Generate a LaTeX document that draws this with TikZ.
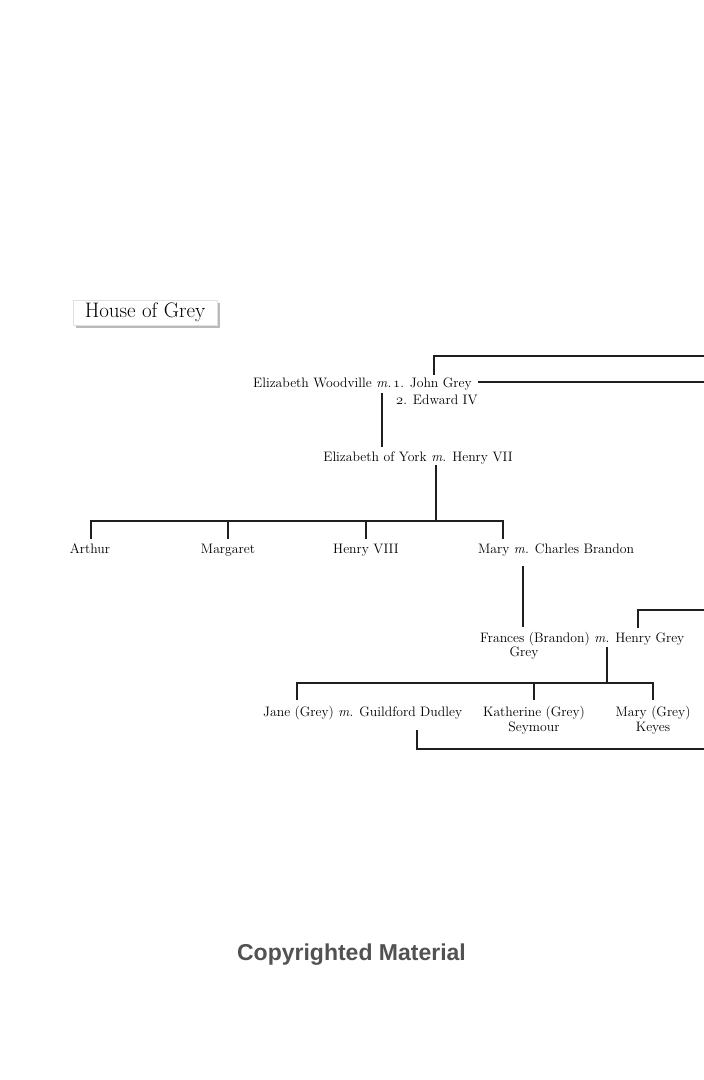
\documentclass[tikz,border=0pt]{standalone}
\usepackage{fontspec}
\newfontfamily\cmfont{Liberation Sans}
\usetikzlibrary{shadows}
\newcommand{\osn}[1]{{\usefont{OML}{cmm}{m}{it}#1}}
\begin{document}
\begin{tikzpicture}[x=1pt,y=-1pt,
  lbl/.style={font=\fontsize{13.7}{15}\selectfont, inner sep=0pt, text=black},
  ln/.style={line width=1.7pt, draw=black!88},
  titlebox/.style={fill=white, draw=black!12, line width=0.4pt,
    minimum width=144pt, minimum height=25pt, inner sep=0pt,
    font=\fontsize{21}{24}\selectfont, text=black,
    drop shadow={shadow xshift=2.5pt, shadow yshift=-2.5pt, fill=black!45, opacity=0.6}},
  cpy/.style={font=\cmfont\bfseries\fontsize{23}{26}\selectfont, text=black!68, inner sep=0pt}]
\useasboundingbox[fill=white] (0,0) rectangle (704,1080);

% title
\node[titlebox] (title) at (145,312.5) {House of Grey};

% text nodes
\node[lbl, anchor=base west] (ew) at (253,387) {Elizabeth Woodville \textit{m.}};
\node[lbl, anchor=base west] (jg) at (393,387) {\osn{1}. John Grey};
\node[lbl, anchor=base west] (ed) at (396,404) {\osn{2}. Edward IV};
\node[lbl, anchor=base] (ey) at (418,461) {Elizabeth of York \textit{m.} Henry VII};
\node[lbl, anchor=base] (arthur) at (90,553) {Arthur};
\node[lbl, anchor=base] (margaret) at (228,553) {Margaret};
\node[lbl, anchor=base] (henry8) at (366,553) {Henry VIII};
\node[lbl, anchor=base west] (mary) at (478,553) {Mary \textit{m.} Charles Brandon};
\node[lbl, anchor=base west] (frances) at (480,642) {Frances (Brandon) \textit{m.} Henry Grey};
\node[lbl, anchor=base] (frances2) at (524,656) {Grey};
\node[lbl, anchor=base west] (jane) at (263,716) {Jane (Grey) \textit{m.} Guildford Dudley};
\node[lbl, anchor=base] (kath) at (534,716) {Katherine (Grey)};
\node[lbl, anchor=base] (kath2) at (534,731) {Seymour};
\node[lbl, anchor=base] (maryg) at (653,716) {Mary (Grey)};
\node[lbl, anchor=base] (maryg2) at (653,731) {Keyes};
\node[cpy, anchor=base] (copy) at (351.5,960) {Copyrighted Material};

% junction coordinates
\coordinate (jgtop) at (434,375);
\coordinate (r1) at (704,356);
\coordinate (jgr) at (478,382);
\coordinate (r2) at (704,382);
\coordinate (ewm) at (382,393);
\coordinate (eytop) at (382,447);
\coordinate (eym) at (436,465);
\coordinate (bar1) at (436,521);
\coordinate (d1) at (91,539);
\coordinate (d2) at (228,539);
\coordinate (d3) at (366,539);
\coordinate (d4) at (503,539);
\coordinate (cbm) at (523,566);
\coordinate (frtop) at (523,627);
\coordinate (hgtop) at (638,628);
\coordinate (r3) at (704,610);
\coordinate (frm) at (607,647);
\coordinate (bar2) at (607,683);
\coordinate (e1) at (297,700);
\coordinate (e2) at (534,700);
\coordinate (e3) at (653,700);
\coordinate (gdm) at (417,730);
\coordinate (r4) at (704,749);

% connectors
\draw[ln] (jgtop) |- (r1);
\draw[ln] (jgr) -- (r2);
\draw[ln] (ewm) -- (eytop);
\draw[ln] (eym) -- (bar1);
\draw[ln] (d1) |- (bar1) -| (d4);
\draw[ln] (d2) -- (d2 |- bar1);
\draw[ln] (d3) -- (d3 |- bar1);
\draw[ln] (cbm) -- (frtop);
\draw[ln] (hgtop) |- (r3);
\draw[ln] (frm) -- (bar2);
\draw[ln] (e1) |- (bar2) -| (e3);
\draw[ln] (e2) -- (e2 |- bar2);
\draw[ln] (gdm) |- (r4);
\end{tikzpicture}
\end{document}
